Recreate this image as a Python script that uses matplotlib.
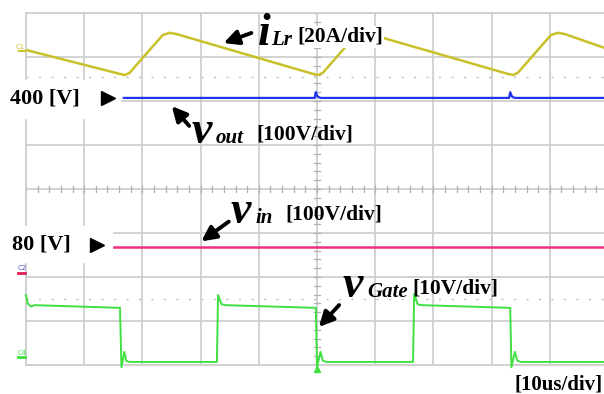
import matplotlib.pyplot as plt
import matplotlib.patches as mpatches
import numpy as np

# time in us (10 us/div), amplitude in screen divisions (0..8 from the bottom)
ilr_t = [0, 16.0, 17.0, 17.8, 23.5, 24.7, 25.9, 49.2, 50.2, 51.0, 56.7, 57.9, 59.1, 82.7, 83.7, 84.5, 90.2, 91.4, 92.6, 100]
ilr_y = [7.16, 6.62, 6.59, 6.64, 7.50, 7.55, 7.52, 6.62, 6.59, 6.64, 7.50, 7.55, 7.52, 6.62, 6.59, 6.64, 7.50, 7.55, 7.52, 7.18]

vout_t = [16.8, 49.6, 49.8, 50.1, 50.6, 83.0, 83.2, 83.5, 84.0, 100]
vout_y = [6.07, 6.07, 6.20, 6.10, 6.07, 6.07, 6.20, 6.10, 6.07, 6.07]

vin_t = [14.9, 100]
vin_y = [2.68, 2.68]

gate_t = [0, 0.3, 0.8, 1.5, 15.8, 16.15, 16.4, 16.9, 17.2, 17.7, 32.6, 32.8, 33.0, 33.6, 34.3,
          49.5, 49.8, 50.0, 50.6, 51.0, 51.6, 66.3, 66.5, 66.7, 67.3, 68.0,
          82.9, 83.2, 83.4, 84.0, 84.4, 85.0, 100]
gate_y = [1.59, 1.40, 1.33, 1.36, 1.30, 1.30, -0.05, 0.30, 0.10, 0.07, 0.07, 0.07, 1.59, 1.38, 1.36,
          1.30, 1.30, -0.05, 0.30, 0.10, 0.07, 0.07, 0.07, 1.62, 1.38, 1.36,
          1.30, 1.30, -0.05, 0.30, 0.10, 0.07, 0.07]

W, H = 604, 394
fig = plt.figure(figsize=(W / 100, H / 100), dpi=100)
ax = fig.add_axes([26 / W, (H - 365) / H, 582 / W, 352 / H])
ax.set_xlim(0, 100)
ax.set_ylim(0, 8)

grid_c = '#cfcfcf'
ax.set_xticks(np.arange(0, 101, 10))
ax.set_yticks(np.arange(0, 9, 1))
ax.grid(True, color=grid_c, lw=1.3)
ax.tick_params(length=0, labelbottom=False, labelleft=False)
for s in ax.spines.values():
    s.set_color(grid_c)
    s.set_linewidth(1.3)

# minor ticks on the centre lines
for xx in np.arange(0, 100.1, 2):
    ax.plot([xx, xx], [3.93, 4.07], color='#b0b0b0', lw=0.9)
for yy in np.arange(0, 8.01, 0.2):
    ax.plot([49.4, 50.6], [yy, yy], color='#b0b0b0', lw=0.9)
# dotted level lines
for yy in [6.55, 1.5]:
    ax.axhline(yy, color='#c0c0c0', lw=1.0, dashes=(1.5, 7.5))

ax.plot(ilr_t, ilr_y, color='#c8c12a', lw=1.8, zorder=3)
ax.plot(vout_t, vout_y, color='#2035f0', lw=1.6, zorder=3)
ax.plot(vin_t, vin_y, color='#ee2f80', lw=1.8, zorder=3)
ax.plot(gate_t, gate_y, color='#3fe03f', lw=1.4, zorder=3, clip_on=False)
ax.plot([50], [-0.1], marker='^', color='#3fe03f', ms=4, clip_on=False)


def fx(px):
    return px / W


def fy(py):
    return 1 - py / H


# white boxes behind the level labels
for x0, y0, x1, y1 in [(0, 80, 120, 118), (0, 226, 112, 262)]:
    fig.patches.append(mpatches.Rectangle((fx(x0), fy(y1)), fx(x1) - fx(x0), fy(y0) - fy(y1),
                                          transform=fig.transFigure, color='white', zorder=1))

serif = 'Liberation Serif'
fig.text(fx(10), fy(99), '400 [V]', fontsize=16, fontweight='bold', family=serif, va='center', zorder=3)
fig.text(fx(12), fy(245), '80 [V]', fontsize=16, fontweight='bold', family=serif, va='center', zorder=3)
for px, py in [(108, 98), (97, 245)]:
    fig.lines.append(plt.Line2D([fx(px)], [fy(py)], marker='>', color='k', ms=10,
                                transform=fig.transFigure, zorder=3))

# channel markers on the left
fig.text(fx(16), fy(49), 'C1', fontsize=5, color='#c8c12a', zorder=3)
fig.lines.append(plt.Line2D([fx(19), fx(26)], [fy(51), fy(51)], color='#c8c12a', lw=1.5,
                            transform=fig.transFigure, zorder=3))
fig.text(fx(18), fy(270), 'C2', fontsize=5, color='#5050d0', zorder=3)
fig.lines.append(plt.Line2D([fx(18), fx(25)], [fy(273), fy(273)], color='#e02050', lw=2,
                            transform=fig.transFigure, zorder=3))
fig.text(fx(18), fy(355), 'C4', fontsize=5, color='#3fe03f', zorder=3)
fig.lines.append(plt.Line2D([fx(18), fx(25)], [fy(357), fy(357)], color='#3fe03f', lw=2,
                            transform=fig.transFigure, zorder=3))


def label(x, base, sym, sub, unit, sub_dx, unit_dx, bg=False):
    fig.text(fx(x), fy(base), sym, fontsize=33, fontweight='bold', style='italic',
             family=serif, va='baseline', zorder=4)
    fig.text(fx(x + sub_dx), fy(base), sub, fontsize=15, fontweight='bold', style='italic',
             family=serif, va='baseline', zorder=4)
    box = dict(facecolor='white', edgecolor='none', pad=1) if bg else None
    fig.text(fx(x + unit_dx), fy(base - 3), unit, fontsize=15.5, fontweight='bold',
             family=serif, va='baseline', zorder=4, bbox=box)


def arrow(tail, head):
    fig.patches.append(mpatches.FancyArrowPatch((fx(tail[0]), fy(tail[1])), (fx(head[0]), fy(head[1])),
                                                transform=fig.transFigure, arrowstyle='-|>',
                                                mutation_scale=22, lw=2.8, color='k', zorder=4))


label(258, 45, 'i', 'Lr', '[20A/div]', 13, 39, bg=True)
arrow((254, 32), (221, 44))
label(192, 143, 'v', 'out', '[100V/div]', 24, 64)
arrow((191, 128), (170, 104))
label(231, 223, 'v', 'in', '[100V/div]', 24, 54)
arrow((231, 220), (199, 243))
label(343, 297, 'v', 'Gate', '[10V/div]', 24, 69)
arrow((341, 303), (317, 329))

fig.text(fx(514), fy(389), '[10us/div]', fontsize=15, fontweight='bold', family=serif, va='baseline')

plt.savefig('out.png', dpi=100)
